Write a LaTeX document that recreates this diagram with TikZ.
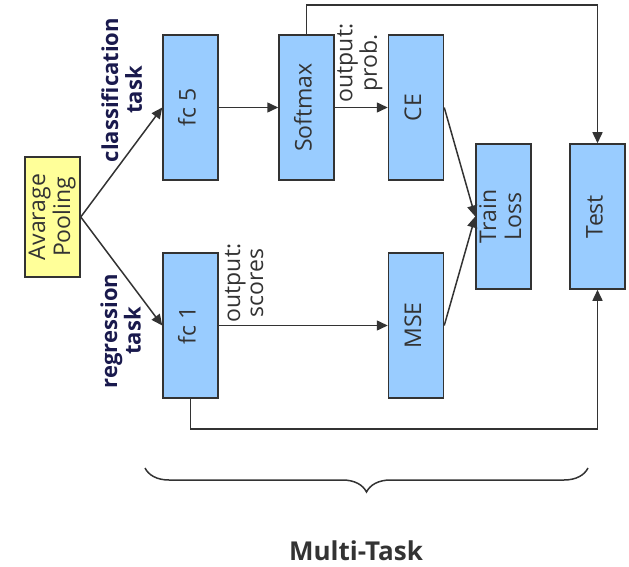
\documentclass[tikz,border=0pt]{standalone}
\usepackage{fontspec}
\setmainfont{Open Sans}
\usepackage{graphicx}
\usetikzlibrary{arrows.meta,decorations.pathreplacing}
\definecolor{boxblue}{RGB}{153,204,255}
\definecolor{boxyellow}{RGB}{255,255,153}
\definecolor{edge}{RGB}{51,51,51}
\definecolor{navy}{RGB}{26,26,77}
\newcommand{\rtext}[1]{\rotatebox{90}{\begin{tabular}{@{}c@{}}#1\end{tabular}}}
\begin{document}
\begin{tikzpicture}[x=1pt,y=-1pt,
  every node/.style={font=\fontsize{23}{25}\selectfont, text=edge},
  blk/.style={draw=edge, line width=1.5pt, fill=boxblue, inner sep=0pt, minimum width=55pt, minimum height=145pt},
  pool/.style={draw=edge, line width=1.5pt, fill=boxyellow, inner sep=0pt, minimum width=55pt, minimum height=120pt},
  arr/.style={draw=edge, line width=1.5pt, -{Triangle[length=11pt,width=10pt]}},
  task/.style={font=\fontsize{22}{23}\bfseries\selectfont, text=navy},
  outl/.style={font=\fontsize{23}{23}\selectfont, text=edge}
]
\useasboundingbox (0,0) rectangle (629,567);
\node[pool] (pool) at (52.5,217) {\rtext{Avarage\\Pooling}};
\node[blk] (fc5) at (190.5,107.5) {\rtext{fc 5}};
\node[blk] (soft) at (306.5,107.5) {\rtext{Softmax}};
\node[blk] (ce) at (416,107.5) {\rtext{CE}};
\node[blk] (fc1) at (190.5,325.5) {\rtext{fc 1}};
\node[blk] (mse) at (416,325.5) {\rtext{MSE}};
\node[blk] (tl) at (503.5,216.5) {\rtext{Train\\Loss}};
\node[blk] (test) at (597.5,216.5) {\rtext{Test}};

\node[task] (lcls) at (125,90) {\rtext{classification\\task}};
\node[task] (lreg) at (124,331) {\rtext{regression\\task}};
\node[outl] (lprob) at (360,63) {\rtext{output:\\prob.}};
\node[outl] (lscore) at (247,283) {\rtext{output:\\scores}};

\coordinate (topy) at (0,5);
\coordinate (boty) at (0,429);

\draw[arr] (pool.east) -- (fc5.west);
\draw[arr] (pool.east) -- (fc1.west);
\draw[arr] (fc5) -- (soft);
\draw[arr] (soft) -- (ce);
\draw[arr] (fc1) -- (mse);
\draw[arr] (ce.east) -- (tl.west);
\draw[arr] (mse.east) -- (tl.west);
\draw[arr] (soft.north) -- (soft.north |- topy) -| (test.north);
\draw[arr] (fc1.south) -- (fc1.south |- boty) -| (test.south);

\coordinate (bl) at (145,468);
\coordinate (br) at (588,468);
\draw[edge, line width=1.5pt, decorate, decoration={brace, mirror, amplitude=24pt}] (bl) -- (br);
\node[inner sep=0pt, font=\fontsize{26}{30}\bfseries\selectfont] (mt) at (356,551) {Multi-Task};
\end{tikzpicture}
\end{document}
